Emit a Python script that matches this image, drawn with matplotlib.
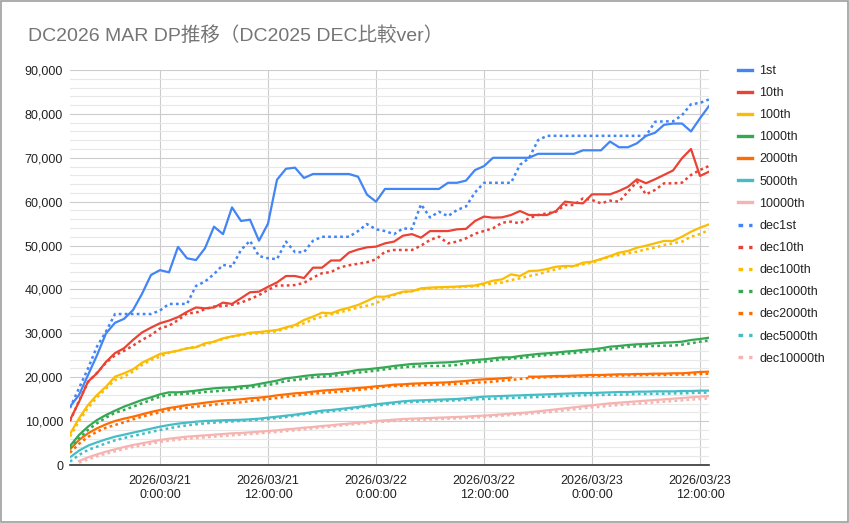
import numpy as np
import datetime as dt
import matplotlib
matplotlib.use('Agg')
import matplotlib.pyplot as plt
import matplotlib.dates as mdates
from matplotlib.ticker import FuncFormatter, MultipleLocator, FixedLocator
from matplotlib.patches import Rectangle

nan = np.nan

# hourly samples, 2026/03/20 14:00 -> 2026/03/23 13:00
start = dt.datetime(2026, 3, 20, 14, 0)
times = [start + dt.timedelta(hours=h) for h in range(72)]

first = [13300, 15950, 20500, 25000, 30000, 32400, 33300, 35300, 39000, 43300,
         44400, 43900, 49700, 47100, 46700, 49400, 54300, 52600, 58700, 55600,
         55900, 51100, 55000, 65000, 67500, 67750, 65400, 66300, 66300, 66300,
         66300, 66300, 65700, 61600, 60000, 62900, 62900, 62900, 62900, 62900,
         62900, 62900, 64300, 64300, 64800, 67200, 68100, 70000, 70000, 70000,
         70000, 70000, 70900, 70900, 70900, 70900, 70900, 71700, 71700, 71700,
         73700, 72400, 72400, 73300, 75000, 75700, 77500, 77800, 77800, 76000,
         79000, 81800]
tenth = [10250, 14400, 19000, 20900, 23500, 25500, 26600, 28500, 30200, 31300,
         32300, 32900, 33700, 34900, 35900, 35700, 35900, 37000, 36700, 38000,
         39350, 39500, 40600, 41600, 43060, 43060, 42600, 44960, 44960, 46600,
         46600, 48400, 49100, 49600, 49750, 50500, 50900, 52250, 52600, 51800,
         53300, 53300, 53300, 53700, 53800, 55600, 56600, 56350, 56430, 56960,
         57870, 56960, 56960, 56960, 57870, 60000, 59760, 59620, 61670, 61670,
         61670, 62430, 63400, 65100, 64200, 65100, 66100, 67100, 69900, 72000,
         65850, 66830]
hundredth = [7060, 10640, 13670, 15950, 17850, 20130, 20890, 21800, 23310, 24300,
             25290, 25670, 26050, 26590, 26820, 27730, 28100, 28870, 29300, 29700,
             30150, 30300, 30530, 30760, 31370, 31900, 33040, 33800, 34710, 34560,
             35320, 35850, 36460, 37370, 38350, 38350, 38880, 39490, 39560, 40260,
             40420, 40500, 40570, 40650, 40790, 40900, 41400, 42000, 42300, 43440,
             43060, 44200, 44280, 44660, 45180, 45340, 45340, 46100, 46330, 46940,
             47620, 48380, 48760, 49520, 49980, 50510, 51050, 51050, 52020, 53160,
             54070, 54830]
th1000 = [4330, 6840, 8740, 10250, 11390, 12380, 13290, 14050, 14810, 15420,
          16100, 16560, 16560, 16710, 16940, 17240, 17470, 17620, 17700, 17930,
          18080, 18460, 18840, 19220, 19750, 19980, 20280, 20510, 20660, 20740,
          21040, 21270, 21650, 21800, 22030, 22260, 22560, 22790, 23020, 23090,
          23240, 23320, 23390, 23550, 23770, 23920, 24080, 24300, 24530, 24530,
          24840, 25070, 25300, 25450, 25600, 25830, 25980, 26210, 26360, 26590,
          26960, 27120, 27340, 27500, 27570, 27730, 27880, 27960, 28100, 28480,
          28710, 29010]
th2000 = [3570, 5700, 7220, 8360, 9270, 10030, 10560, 11010, 11550, 12080,
          12530, 12990, 13290, 13670, 13900, 14200, 14430, 14660, 14810, 14960,
          15190, 15340, 15570, 15870, 16100, 16330, 16480, 16710, 16940, 17090,
          17240, 17390, 17550, 17700, 17930, 18080, 18310, 18380, 18530, 18610,
          18690, 18760, 18840, 18990, 19140, 19370, 19520, 19600, 19750, 19900,
          nan, 20130, 20130, 20210, 20280, 20280, 20360, 20430, 20510, 20510,
          20590, 20660, 20660, 20740, 20740, 20810, 20810, 20890, 20890, 21040,
          21190, 21270]
th5000 = [1750, 3270, 4410, 5170, 5850, 6460, 6910, 7370, 7820, 8280,
          8740, 9110, 9420, 9650, 9870, 10030, 10100, 10200, 10250, 10300,
          10410, 10560, 10790, 11010, 11240, 11470, 11770, 12080, 12380, 12530,
          12760, 12990, 13220, 13520, 13820, 14050, 14280, 14510, 14660, 14730,
          14810, 14890, 14960, 15040, 15190, 15380, 15570, 15650, 15720, 15800,
          15870, 15950, 16020, 16100, 16180, 16250, 16330, 16400, 16400, 16480,
          16550, 16630, 16630, 16710, 16710, 16780, 16780, 16780, 16860, 16860,
          16940, 16940]
th10000 = [nan, 910, 1750, 2430, 3040, 3570, 4100, 4560, 4940, 5320,
           5700, 6000, 6230, 6460, 6610, 6760, 6910, 7060, 7220, 7290,
           7440, 7600, 7750, 7900, 8130, 8280, 8510, 8660, 8890, 9040,
           9270, 9420, 9650, 9800, 10030, 10180, 10330, 10480, 10560, 10630,
           10710, 10790, 10860, 10940, 11010, 11160, 11240, 11390, 11550, 11700,
           11850, 12000, 12230, 12460, 12680, 12910, 13140, 13370, 13600, 13820,
           14050, 14200, 14350, 14510, 14660, 14810, 14960, 15110, 15260, 15420,
           15570, 15720]

dec_first = [13000, 17500, 22000, 27000, 30400, 34400, 34400, 34400, 34400, 34400,
             35200, 36700, 36700, 36700, 40800, 41800, 43500, 45600, 45200, 49000,
             51100, 47600, 47100, 46900, 50900, 48500, 48500, 51100, 52000, 52000,
             52000, 52000, 53300, 54900, 53700, 53300, 52600, 53900, 53800, 59400,
             56400, 57700, 56700, 58100, 58900, 62100, 64300, 64300, 64300, 64300,
             68400, 69900, 74000, 75000, 75000, 75000, 75000, 75000, 75000, 75000,
             75000, 75000, 75000, 75000, 75000, 78200, 78300, 78300, 79700, 82200,
             82500, 83300]
dec_tenth = [10000, 14600, 18900, 21000, 23300, 25000, 26000, 27200, 28500, 29600,
             31100, 31750, 33000, 34560, 34700, 35500, 36100, 36200, 36500, 37000,
             37800, 38700, 39900, 40900, 40900, 41000, 41500, 42700, 43700, 43950,
             45040, 45500, 45850, 46200, 46860, 48600, 48990, 48990, 48990, 49980,
             51270, 52020, 50510, 50890, 51650, 52700, 53320, 53930, 55210, 55440,
             55060, 56200, 56960, 57340, 57720, 59240, 59240, 60760, 60380, 59620,
             60230, 60000, 62280, 64560, 61670, 62660, 64180, 64180, 64330, 66080,
             67220, 68130]
dec_hundredth = [6500, 10000, 13000, 15400, 17400, 19370, 20130, 21270, 22790, 23920,
                 24680, 25590, 26050, 26590, 26970, 27340, 28100, 28710, 29240, 29620,
                 29900, 30000, 30200, 30500, 31100, 31600, 32280, 33190, 33800, 34330,
                 34790, 35320, 35850, 36300, 36840, 37980, 38730, 39340, 39640, 40030,
                 40260, 40420, 40500, 40500, 40650, 40700, 41010, 41400, 41560, 42150,
                 42530, 43060, 43440, 44050, 44580, 45040, 45340, 45720, 46100, 46860,
                 47470, 47850, 48230, 48610, 49140, 49520, 50130, 50510, 50890, 52020,
                 52630, 53540]
dec_th1000 = [3800, 6080, 8000, 9500, 10800, 11900, 12530, 13290, 14050, 14810,
              15570, 15950, 16100, 16250, 16400, 16630, 16780, 16940, 17240, 17470,
              17700, 17930, 18230, 18610, 19140, 19370, 19600, 19980, 20130, 20280,
              20510, 20890, 21040, 21270, 21500, 21800, 22030, 22260, 22410, 22490,
              22560, 22560, 22640, 22790, 23170, 23390, 23550, 23770, 24080, 24230,
              24380, 24610, 24840, 25070, 25220, 25370, 25520, 25750, 25900, 26050,
              26360, 26660, 26890, 27040, 27040, 27120, 27200, 27200, 27420, 27730,
              28100, 28410]
dec_th2000 = [2800, 4800, 6400, 7600, 8500, 9110, 9720, 10410, 11010, 11550,
              12000, 12530, 12830, 13060, 13290, 13520, 13750, 13980, 14130, 14280,
              14580, 14810, 15040, 15260, 15570, 15800, 16020, 16250, 16400, 16560,
              16710, 16940, 17090, 17320, 17550, 17850, 18000, 18080, 18150, 18230,
              18310, 18310, 18380, 18460, 18610, 18760, 18840, 18990, 19220, 19370,
              19600, 19830, 19900, 19980, 20060, 20130, 20130, 20210, 20280, 20280,
              20360, 20360, 20430, 20430, 20510, 20510, 20510, 20590, 20590, 20660,
              20740, 20810]
dec_th5000 = [760, 2280, 3420, 4180, 4940, 5620, 6150, 6610, 7060, 7520,
              7980, 8360, 8740, 9040, 9270, 9500, 9650, 9800, 9920, 10060,
              10180, 10330, 10480, 10710, 10940, 11240, 11550, 11770, 12000, 12230,
              12460, 12680, 12990, 13290, 13520, 13750, 13980, 14200, 14350, 14430,
              14510, 14580, 14660, 14730, 14890, 14960, 15040, 15110, 15190, 15260,
              15340, 15420, 15490, 15570, 15650, 15720, 15800, 15870, 15950, 15950,
              16020, 16020, 16100, 16180, 16180, 16250, 16250, 16330, 16330, 16400,
              16480, 16480]
dec_th10000 = [nan, 530, 1290, 1980, 2580, 3120, 3650, 4100, 4480, 4860,
               5240, 5550, 5770, 6000, 6150, 6300, 6460, 6610, 6760, 6910,
               7060, 7220, 7370, 7520, 7750, 7900, 8130, 8350, 8580, 8740,
               8970, 9200, 9350, 9570, 9730, 9880, 10030, 10180, 10250, 10330,
               10400, 10480, 10560, 10630, 10710, 10790, 10940, 11090, 11240, 11390,
               11550, 11700, 11850, 12000, 12230, 12460, 12680, 12910, 13140, 13290,
               13520, 13670, 13820, 13980, 14130, 14280, 14430, 14580, 14730, 14890,
               15040, 15190]

names = ['1st', '10th', '100th', '1000th', '2000th', '5000th', '10000th']
colors = ['#4285f4', '#ea4335', '#fbbc04', '#34a853', '#ff6d01', '#46bdc6', '#f6b4b0']
solid = [first, tenth, hundredth, th1000, th2000, th5000, th10000]
dotted = [dec_first, dec_tenth, dec_hundredth, dec_th1000, dec_th2000, dec_th5000, dec_th10000]

plt.rcParams['font.family'] = ['Liberation Sans', 'Noto Sans CJK JP', 'DejaVu Sans']

fig = plt.figure(figsize=(8.49, 5.23), dpi=100)
ax = fig.add_axes([70/849, 1-465/523, 639/849, 395/523])

for name, c, ys in zip(names, colors, solid):
    ax.plot(times, ys, color=c, lw=1.6, label=name, solid_joinstyle='round')
for name, c, ys in zip(names, colors, dotted):
    ax.plot(times, ys, color=c, lw=1.8, ls=(0, (1.1, 1.3)), label='dec' + name)

ax.set_xlim(times[0], times[-1])
ax.set_ylim(0, 90000)

# y axis
ax.yaxis.set_major_locator(MultipleLocator(10000))
ax.yaxis.set_minor_locator(MultipleLocator(2000))
ax.yaxis.set_major_formatter(FuncFormatter(lambda v, p: f'{int(v):,}'))
ax.grid(axis='y', which='major', color='#cccccc', lw=0.8)
ax.grid(axis='y', which='minor', color='#e8e8e8', lw=0.8)

# x axis
tick_times = [dt.datetime(2026, 3, 21) + dt.timedelta(hours=12 * k) for k in range(6)]
ax.xaxis.set_major_locator(FixedLocator(mdates.date2num(tick_times)))
ax.xaxis.set_major_formatter(FuncFormatter(
    lambda v, p: mdates.num2date(v).strftime('%Y/%m/%d') + '\n' + f'{mdates.num2date(v).hour}:00:00'))
ax.grid(axis='x', which='major', color='#cccccc', lw=0.8)
ax.set_axisbelow(True)

for s in ['top', 'right', 'left']:
    ax.spines[s].set_visible(False)
ax.spines['bottom'].set_color('#333333')
ax.spines['bottom'].set_linewidth(1.2)
ax.tick_params(axis='both', which='both', length=0, labelsize=9, colors='#222222')
ax.tick_params(axis='y', pad=5)
ax.tick_params(axis='x', pad=7)
for t in ax.get_xticklabels():
    t.set_linespacing(1.3)

fig.text(28/849, 1-36/523, 'DC2026 MAR DP推移（DC2025 DEC比較ver）',
         fontsize=14, color='#757575', va='center', ha='left')

leg = ax.legend(loc='upper left', bbox_to_anchor=(738/849, 1-65/523), bbox_transform=fig.transFigure,
                frameon=False, fontsize=9, labelcolor='#222222', handlelength=1.15,
                handletextpad=0.55, labelspacing=0.81, borderpad=0, borderaxespad=0)
for h in leg.get_lines():
    h.set_linewidth(2.4)
    if h.get_linestyle() != '-':
        h.set_dashes((1.4, 1.8))

fig.patches.append(Rectangle((0.001, 0.001), 0.998, 0.998, transform=fig.transFigure,
                             fill=False, edgecolor='#9e9e9e', lw=1.2))

fig.savefig('out.png', dpi=100)
